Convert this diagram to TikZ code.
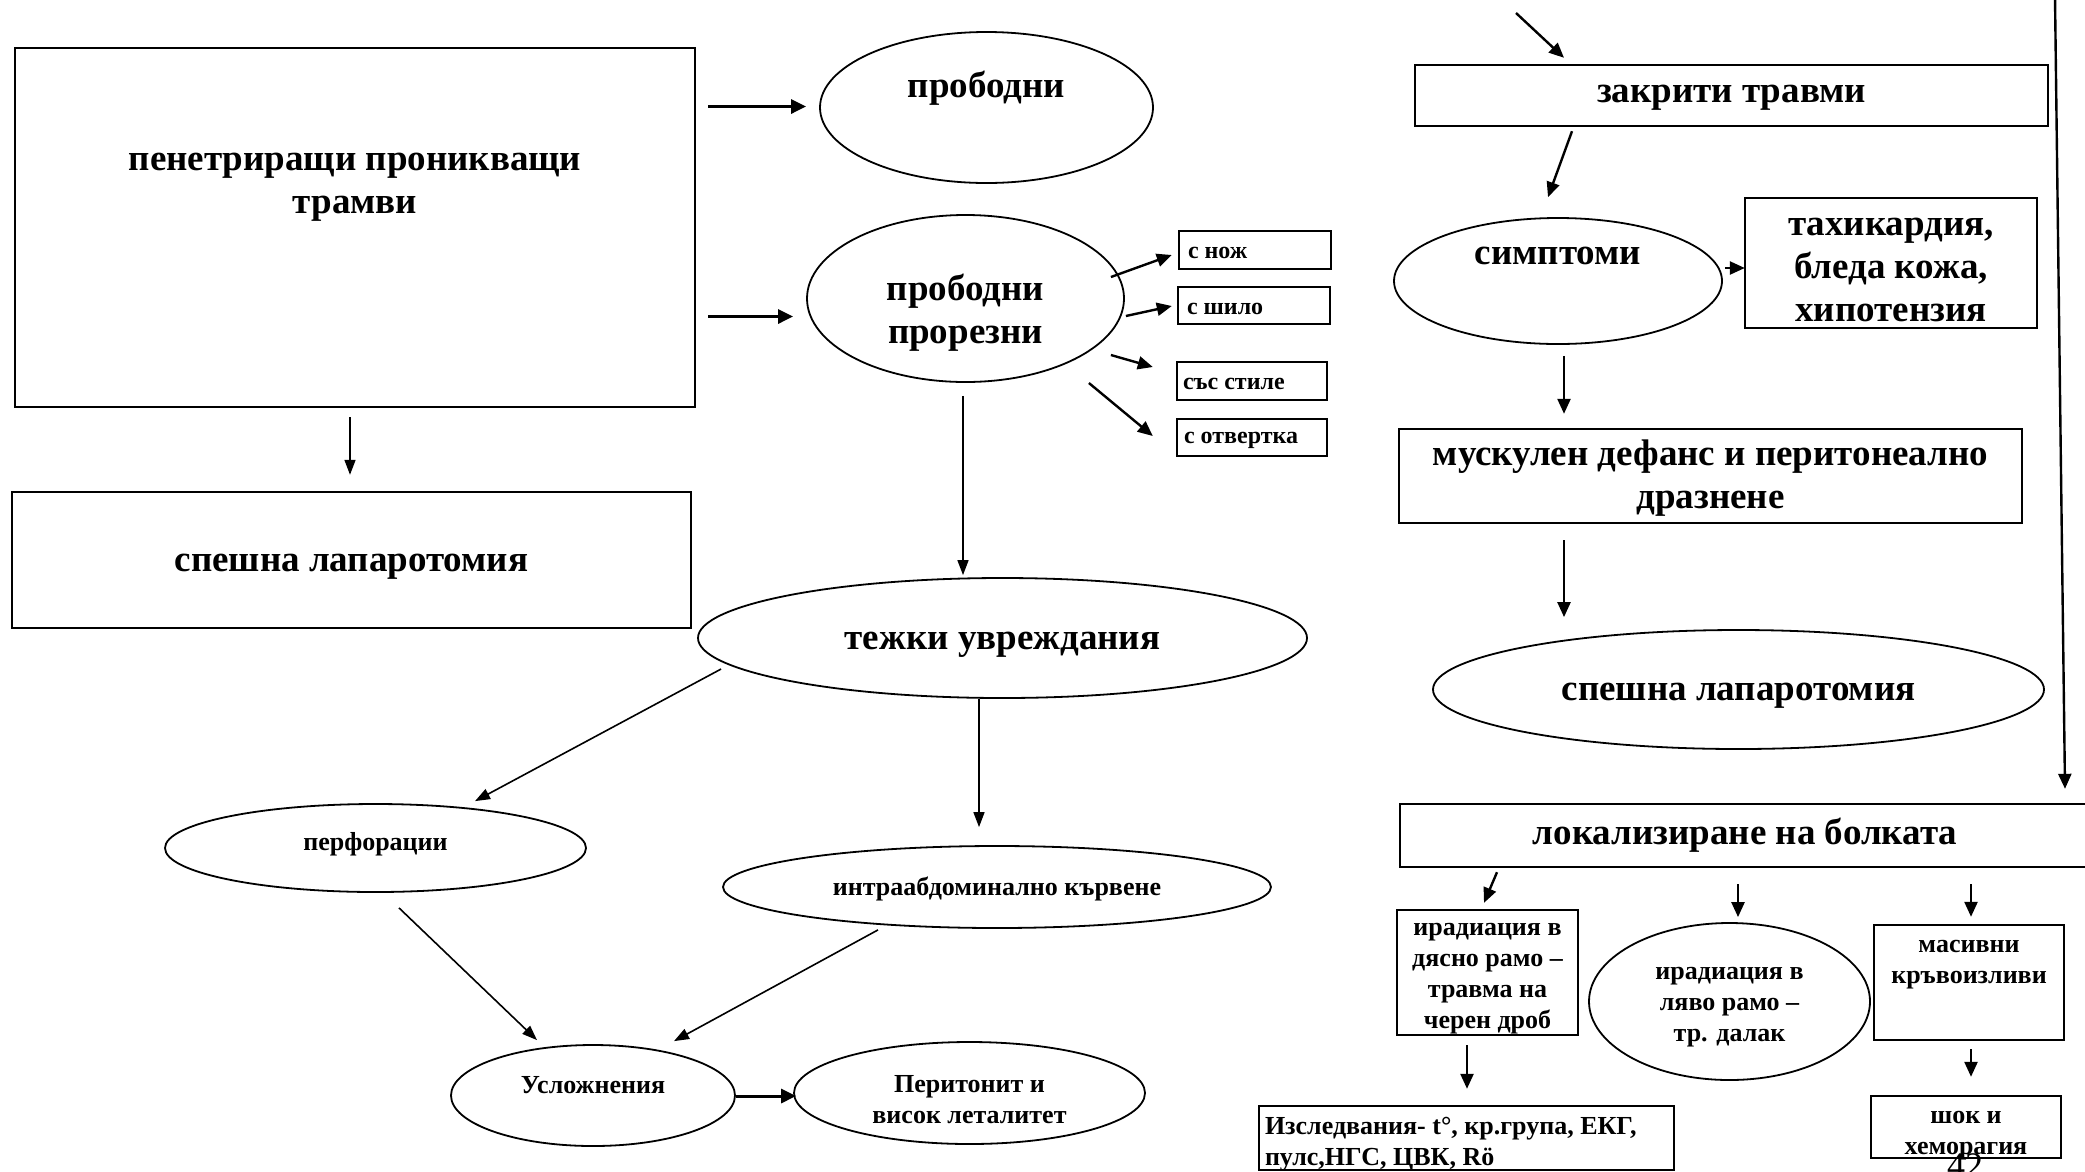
\documentclass[tikz,border=0pt]{standalone}
\usepackage{fontspec}
\setmainfont{Liberation Serif}
\usetikzlibrary{shapes.geometric, arrows.meta}

\begin{document}
\begin{tikzpicture}[x=1pt, y=-1pt,
	box/.style={draw, line width=2.4pt, inner sep=0pt},
	oval/.style={draw, ellipse, line width=1.8pt, inner sep=0pt},
	bigtxt/.style={font=\fontsize{37}{43}\selectfont\bfseries, align=center},
	midtxt/.style={font=\fontsize{26}{31}\selectfont\bfseries, align=center},
	smltxt/.style={font=\fontsize{24}{28}\selectfont\bfseries, inner sep=0pt, anchor=west},
	arr/.style={-{Triangle[length=15pt,width=13pt]}, line width=2.4pt},
	slim/.style={-{Triangle[length=15pt,width=11pt]}, line width=1.6pt},
	thk/.style={-{Triangle[length=15pt,width=14pt]}, line width=3pt}]

	\useasboundingbox (0,0) rectangle (2085,1171);

	\node[box, minimum width=680pt, minimum height=359pt, label={[bigtxt, yshift=40pt]center:пенетриращи проникващи\\трамви}] (pen) at (355,227.5) {};
	\node[box, minimum width=679pt, minimum height=136pt, label={[bigtxt, yshift=-6.5pt]center:спешна лапаротомия}] (lap1) at (351.5,560) {};
	\node[oval, minimum width=333pt, minimum height=151pt, label={[bigtxt, yshift=19pt]center:прободни}] (prob) at (986.5,107.5) {};
	\node[oval, minimum width=317pt, minimum height=167pt, label={[bigtxt, yshift=-14.5pt]center:прободни\\прорезни}] (prorez) at (965.5,298.5) {};
	\node[box, minimum width=152pt, minimum height=38pt, label={[smltxt, xshift=10pt, yshift=-3pt]west:с нож}] (nozh) at (1255,250) {};
	\node[box, minimum width=152pt, minimum height=37pt, label={[smltxt, xshift=10pt, yshift=-3pt]west:с шило}] (shilo) at (1254,305.5) {};
	\node[box, minimum width=150pt, minimum height=38pt, label={[smltxt, xshift=7pt, yshift=-3pt]west:със стиле}] (stile) at (1252,381) {};
	\node[box, minimum width=150pt, minimum height=37pt, label={[smltxt, xshift=8pt, yshift=-3pt]west:с отвертка}] (otv) at (1252,437.5) {};
	\node[oval, minimum width=609pt, minimum height=120pt, label={[bigtxt, yshift=-6.5pt]center:тежки увреждания}] (tezh) at (1002.5,638) {};
	\node[oval, minimum width=421pt, minimum height=88pt, label={[midtxt, yshift=3.5pt]center:перфорации}] (perf) at (375.5,848) {};
	\node[oval, minimum width=548pt, minimum height=82pt, label={[midtxt, yshift=-1.5pt]center:интраабдоминално кървене}] (intra) at (997,887) {};
	\node[oval, minimum width=284pt, minimum height=101pt, label={[midtxt, yshift=10pt]center:Усложнения}] (usl) at (593,1095.5) {};
	\node[oval, minimum width=351pt, minimum height=102pt, label={[midtxt, yshift=-7pt]center:Перитонит и\\висок леталитет}] (perit) at (969.5,1093) {};

	\node[box, minimum width=633pt, minimum height=61pt, label={[bigtxt, yshift=-2.5pt]center:закрити травми}] (zakr) at (1731.5,95.5) {};
	\node[oval, minimum width=328pt, minimum height=126pt, label={[bigtxt, yshift=25pt]center:симптоми}] (simpt) at (1558,281) {};
	\node[box, minimum width=292pt, minimum height=130pt, label={[bigtxt, yshift=-7pt]center:тахикардия,\\бледа кожа,\\хипотензия}] (tahi) at (1891,263) {};
	\node[box, minimum width=623pt, minimum height=94pt, label={[bigtxt, yshift=-2.5pt]center:мускулен дефанс и перитонеално\\дразнене}] (musk) at (1710.5,476) {};
	\node[oval, minimum width=611pt, minimum height=119pt, label={[bigtxt, yshift=-6.5pt]center:спешна лапаротомия}] (lap2) at (1738.5,689.5) {};
	\node[box, minimum width=690pt, minimum height=63pt, label={[bigtxt, yshift=0.5pt]center:локализиране на болката}] (lok) at (1745,835.5) {};
	\node[box, minimum width=181pt, minimum height=125pt, label={[midtxt, yshift=-6pt]center:ирадиация в\\дясно рамо –\\травма на\\черен дроб}] (dyasno) at (1487.5,972.5) {};
	\node[oval, minimum width=281pt, minimum height=157pt, label={[midtxt, yshift=-6pt]center:ирадиация в\\ляво рамо –\\тр. далак}] (lyavo) at (1729.5,1001.5) {};
	\node[box, minimum width=190pt, minimum height=115pt, label={[midtxt, yshift=17.5pt]center:масивни\\кръвоизливи}] (masiv) at (1969,982.5) {};
	\node[box, minimum width=415pt, minimum height=64pt, label={[midtxt, align=left, inner sep=0pt, anchor=west, xshift=7pt, yshift=-6pt]west:Изследвания- t°, кр.група, ЕКГ,\\пулс,НГС, ЦВК, Rö}] (izsl) at (1466.5,1138) {};
	\node[box, minimum width=190pt, minimum height=62pt, label={[midtxt, yshift=-8.5pt]center:шок и\\хеморагия}] (shok) at (1966,1127) {};
	\node[font=\fontsize{36}{40}\selectfont, inner sep=0pt, anchor=north] (page) at (1965,1153) {42};

	\coordinate (in1) at (1516,13);
	\coordinate (in2) at (2055,-2);

	\draw[thk] ([shift={(12,-121)}]pen.east) -- ([shift={(-13,-1)}]prob.west);
	\draw[thk] ([shift={(12,89)}]pen.east) -- ([shift={(-13,18)}]prorez.west);
	\draw[slim] ([shift={(-5,9)}]pen.south) -- ([shift={(-1.5,-16)}]lap1.north);
	\draw[arr] ([shift={(-14,-21.5)}]prorez.east) -- ([shift={(-6,5)}]nozh.west);
	\draw[arr] ([shift={(1,17.5)}]prorez.east) -- ([shift={(-5,0.5)}]shilo.west);
	\draw[arr] ([shift={(-14,56.5)}]prorez.east) -- ([shift={(-23,-14)}]stile.west);
	\draw[arr] ([shift={(-36,84.5)}]prorez.east) -- ([shift={(-23,-1.5)}]otv.west);
	\draw[slim] ([shift={(-2.5,13)}]prorez.south) -- ([shift={(-39.5,-2)}]tezh.north);
	\draw[slim] ([shift={(24,31)}]tezh.west) -- ([shift={(99.5,-2)}]perf.north);
	\draw[slim] ([shift={(-23.5,0)}]tezh.south) -- ([shift={(-18,-18)}]intra.north);
	\draw[slim] ([shift={(23.5,15)}]perf.south) -- ([shift={(-56,-4)}]usl.north);
	\draw[slim] ([shift={(-119,1)}]intra.south) -- ([shift={(81,-3)}]usl.north);
	\draw[thk] ([shift={(0,0.5)}]usl.east) -- ([shift={(3,3)}]perit.west);

	\draw[arr] (in1) -- ([shift={(-167.5,-6)}]zakr.north);
	\draw[arr] ([shift={(-159.5,4)}]zakr.south) -- ([shift={(-10,-20)}]simpt.north);
	\draw[arr] ([shift={(2,-13)}]simpt.east) -- ([shift={(1,5)}]tahi.west);
	\draw[arr] ([shift={(6,11)}]simpt.south) -- ([shift={(-146.5,-14)}]musk.north);
	\draw[arr] ([shift={(-146.5,16)}]musk.south) -- ([shift={(-174.5,-12)}]lap2.north);
	\draw[arr] (in2) -- ([shift={(320,-14)}]lok.north);
	\draw[arr] ([shift={(-248,4)}]lok.south) -- ([shift={(-3.5,-6)}]dyasno.north);
	\draw[arr] ([shift={(-7,16)}]lok.south) -- ([shift={(8.5,-5)}]lyavo.north);
	\draw[arr] ([shift={(226,16)}]lok.south) -- ([shift={(2,-7)}]masiv.north);
	\draw[arr] ([shift={(-20.5,9)}]dyasno.south) -- ([shift={(0.5,-16)}]izsl.north);
	\draw[arr] ([shift={(2,8)}]masiv.south) -- ([shift={(5,-18)}]shok.north);

\end{tikzpicture}
\end{document}
